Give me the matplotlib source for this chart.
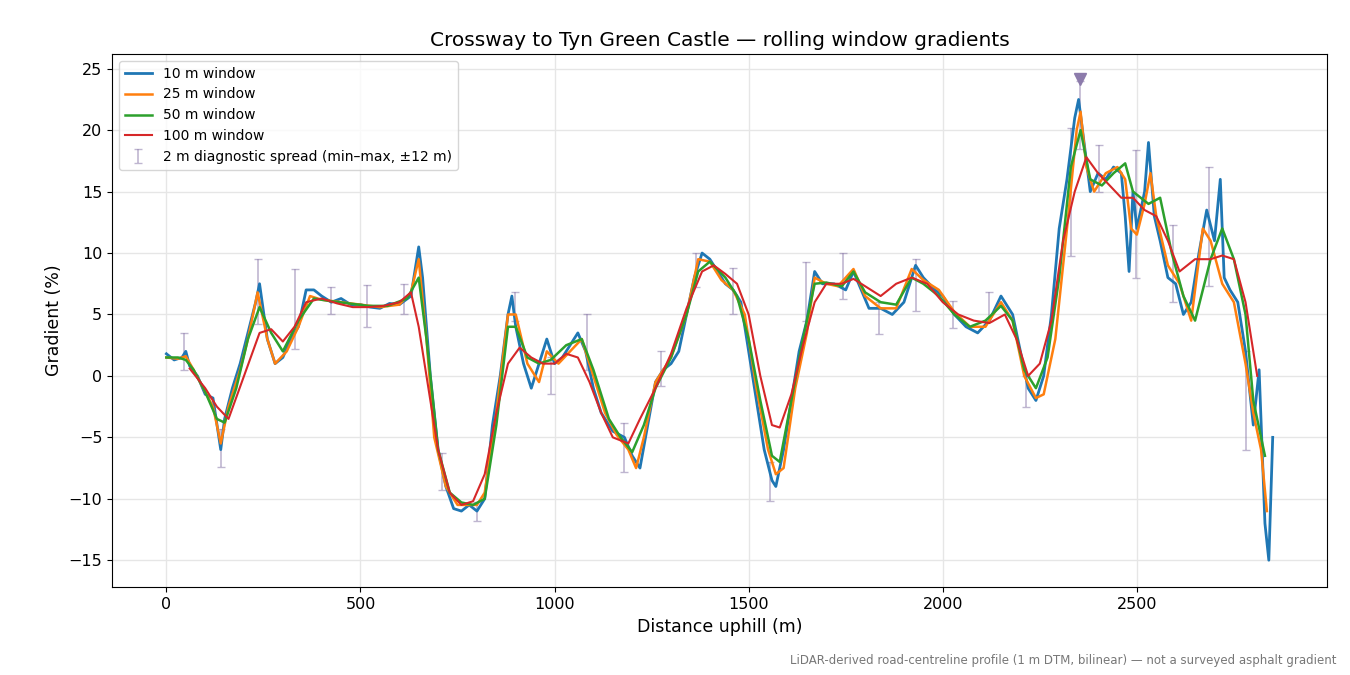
import matplotlib
matplotlib.use("Agg")
import matplotlib.pyplot as plt
import numpy as np

d10 = [0,20,40,50,60,80,100,120,140,150,170,190,210,230,240,260,280,300,320,340,360,380,400,425,450,475,500,525,550,575,600,630,650,660,680,700,720,740,760,780,800,820,840,860,880,890,900,920,940,960,980,1000,1020,1040,1060,1080,1100,1120,1150,1180,1200,1220,1240,1260,1280,1300,1320,1340,1360,1380,1400,1420,1440,1460,1480,1500,1520,1540,1560,1570,1590,1610,1630,1650,1670,1690,1720,1750,1770,1790,1810,1840,1870,1900,1930,1950,1980,2000,2030,2060,2090,2120,2150,2180,2200,2220,2240,2260,2280,2300,2320,2340,2350,2360,2380,2400,2420,2440,2460,2470,2480,2490,2500,2520,2530,2545,2560,2580,2600,2620,2640,2660,2680,2700,2715,2725,2740,2760,2780,2800,2810,2815,2830,2840,2850]
g10 = [1.8,1.3,1.5,2.0,0.8,0,-1.5,-1.8,-6.0,-3.5,-1,1,3.5,6,7.5,3,1,1.5,3,4,7,7,6.5,6.0,6.3,5.8,5.8,5.6,5.5,5.9,5.8,6.5,10.5,8,0,-6,-9,-10.8,-11,-10.5,-11,-10,-4,0,5,6.5,4,1,-1,1,3,1,1.5,2.5,3.5,2,-1,-3,-4.5,-5,-6.5,-7.5,-4,-0.5,0.5,1,2,5,8,10,9.5,8.5,7.5,7,6,2,-2,-6,-8.5,-9,-6,-2,2,4.5,8.5,7.5,7.5,7,8.5,7,5.5,5.5,5,6,9,8,7,6.5,5,4,3.5,4.5,6.5,5,2,-1,-2,0,5,12,16,21,22.5,20,15,16.5,16,17,16.5,13,8.5,15,12,15,19,13,11,8,7.5,5,6,10,13.5,11,16,8,7,6,2,-4,-1,0.5,-12,-15,-5]

d25 = [0,30,50,70,100,120,140,160,190,210,235,260,280,310,340,370,400,450,500,550,600,630,650,670,690,720,750,780,800,820,850,880,900,930,960,980,1010,1040,1070,1100,1130,1160,1190,1210,1230,1260,1300,1340,1370,1400,1430,1460,1490,1520,1550,1570,1590,1620,1650,1670,1700,1730,1770,1800,1840,1880,1920,1950,1990,2030,2070,2110,2150,2180,2210,2240,2260,2290,2320,2345,2355,2370,2390,2420,2450,2470,2485,2500,2520,2535,2550,2580,2610,2640,2670,2690,2720,2750,2780,2800,2820,2835]
g25 = [1.5,1.4,1.6,0.5,-1.3,-2.5,-5.5,-2.5,0.5,3,6.8,3,1,2,4,6.5,6.2,6.0,5.8,5.6,5.8,6.8,9.5,3,-5,-9,-10.5,-10.5,-10.5,-9.5,-3,5,5,1,-0.5,2,1,2,3,0,-3,-4.8,-6,-7.5,-5,-0.5,1.5,5,9.5,9.3,7.8,7,5,-1,-6,-8,-7.5,-1,3.5,8,7.5,7.3,8.7,6.5,5.5,5.5,8.7,7.8,7,5.2,4,4,6,4.5,0,-1.8,-1.5,3,12,20,21.5,17,15,16.5,17,16,12,11.5,14,16.5,13,9,7.5,4.5,12,11,7.5,6,1,-3,-6,-11]

d50 = [0,30,50,70,100,130,150,180,210,240,270,300,340,380,420,470,520,570,620,650,670,700,730,760,790,820,850,880,900,930,960,990,1030,1070,1100,1140,1170,1200,1230,1260,1300,1340,1370,1400,1440,1470,1500,1530,1560,1580,1610,1640,1670,1700,1740,1770,1800,1840,1880,1920,1950,1990,2030,2070,2110,2150,2180,2210,2240,2270,2300,2330,2355,2380,2410,2440,2470,2490,2510,2530,2560,2590,2620,2650,2690,2720,2750,2780,2800,2830]
g50 = [1.5,1.5,1.3,0.5,-1.3,-3.5,-3.8,-1,3,5.6,3.5,2,4.5,6.3,6.1,5.9,5.7,5.7,6.3,8,3,-6,-9.5,-10.3,-10.5,-10,-4,4,4,1.5,1,1.3,2.5,3,0.5,-3.5,-5,-6.2,-4,-1,1.5,5,8.5,9.3,8,6.5,3,-2,-6.5,-7,-2,3,7.5,7.6,7.3,8.5,6.8,6,5.8,8,7.5,6.5,5,4,4.5,5.7,4.5,0.5,-1,1.5,8,17,20,16,15.5,16.5,17.3,15,14.5,14,14.5,10,6.5,4.5,9.5,12,9.5,5,-2,-6.5]

d100 = [60,100,130,160,200,240,270,300,330,360,400,440,480,520,560,600,630,650,670,700,730,760,790,820,850,880,910,940,970,1000,1030,1060,1090,1120,1150,1190,1220,1260,1300,1340,1380,1410,1440,1470,1500,1530,1560,1580,1610,1640,1670,1700,1740,1770,1800,1840,1880,1920,1960,2000,2040,2080,2120,2160,2190,2220,2250,2280,2310,2340,2370,2400,2430,2460,2490,2520,2550,2580,2610,2650,2690,2720,2750,2780,2810]
g100 = [0.6,-1,-2.5,-3.5,0,3.5,3.8,2.8,4,6,6.3,5.9,5.6,5.6,5.7,6,6.8,4,0,-6,-9.5,-10.5,-10.2,-8,-3,1,2.3,1.5,1,1,1.8,1.5,-0.5,-3,-5,-5.5,-3.5,-1,1.8,5.5,8.5,9,8.3,7.5,5,0,-4,-4.2,-1.5,2.5,6,7.5,7.5,7.9,7.3,6.5,7.5,8,7.5,6,5,4.5,4.3,5,3,0,1,4.5,11,15,17.8,16.5,15.5,14.5,14.5,13.5,13,11,8.5,9.5,9.5,9.8,9.5,6,0]

eb_x  = [46,140,237,332,423,518,612,709,801,898,992,1084,1179,1273,1365,1459,1554,1648,1742,1837,1931,2026,2120,2214,2330,2353,2403,2497,2592,2686,2781]
eb_lo = [0.5,-7.4,4.2,2.2,5,4,5,-9.3,-11.8,4.5,-1.5,0.5,-7.8,-0.8,7.2,5,-10.2,4.5,6.3,3.4,5.3,3.9,4.5,-2.5,9.8,18.5,15,8,6,7.3,-6]
eb_hi = [3.5,-4.3,9.5,8.7,7.2,7.4,7.5,-6.3,-10.3,6.8,1.5,5,-3.8,2,10,8.8,-7,9.3,10,6,9.5,6.1,6.8,0,20.2,24,18.8,18.4,12.3,17,2]
clip_x = [2353]
clip_y = [24.2]

fig, ax = plt.subplots(figsize=(13.5, 6.75), dpi=100)
lo = np.array(eb_lo); hi = np.array(eb_hi); mid = (lo + hi) / 2
ax.errorbar(eb_x, mid, yerr=[mid - lo, hi - mid], fmt='none', ecolor='#8c7bab', alpha=0.55,
            elinewidth=1.2, capsize=3, label='2 m diagnostic spread (min–max, ±12 m)', zorder=1)
ax.plot(d10, g10, color='#1f77b4', lw=2, label='10 m window', zorder=2)
ax.plot(d25, g25, color='#ff7f0e', lw=1.8, label='25 m window', zorder=3)
ax.plot(d50, g50, color='#2ca02c', lw=1.8, label='50 m window', zorder=4)
ax.plot(d100, g100, color='#d62728', lw=1.5, label='100 m window', zorder=5)
ax.plot(clip_x, clip_y, marker='v', color='#8c7bab', ls='none', ms=8, zorder=6)

ax.set_xlim(-140, 2990)
ax.set_ylim(-17.2, 26.2)
ax.set_yticks([-15, -10, -5, 0, 5, 10, 15, 20, 25])
ax.set_xticks([0, 500, 1000, 1500, 2000, 2500])
ax.grid(True, color='#e6e6e6', lw=1)
ax.set_axisbelow(True)
ax.tick_params(labelsize=11.5)
ax.set_xlabel('Distance uphill (m)', fontsize=12.5)
ax.set_ylabel('Gradient (%)', fontsize=12.5)
ax.set_title('Crossway to Tyn Green Castle — rolling window gradients', fontsize=14.5)
ax.legend(loc='upper left', fontsize=10, framealpha=0.8)
fig.text(0.99, 0.012, 'LiDAR-derived road-centreline profile (1 m DTM, bilinear) — not a surveyed asphalt gradient',
         ha='right', va='bottom', fontsize=8.5, color='#777777')
plt.subplots_adjust(left=0.083, right=0.983, top=0.92, bottom=0.13)
fig.savefig('out.png', dpi=100)
